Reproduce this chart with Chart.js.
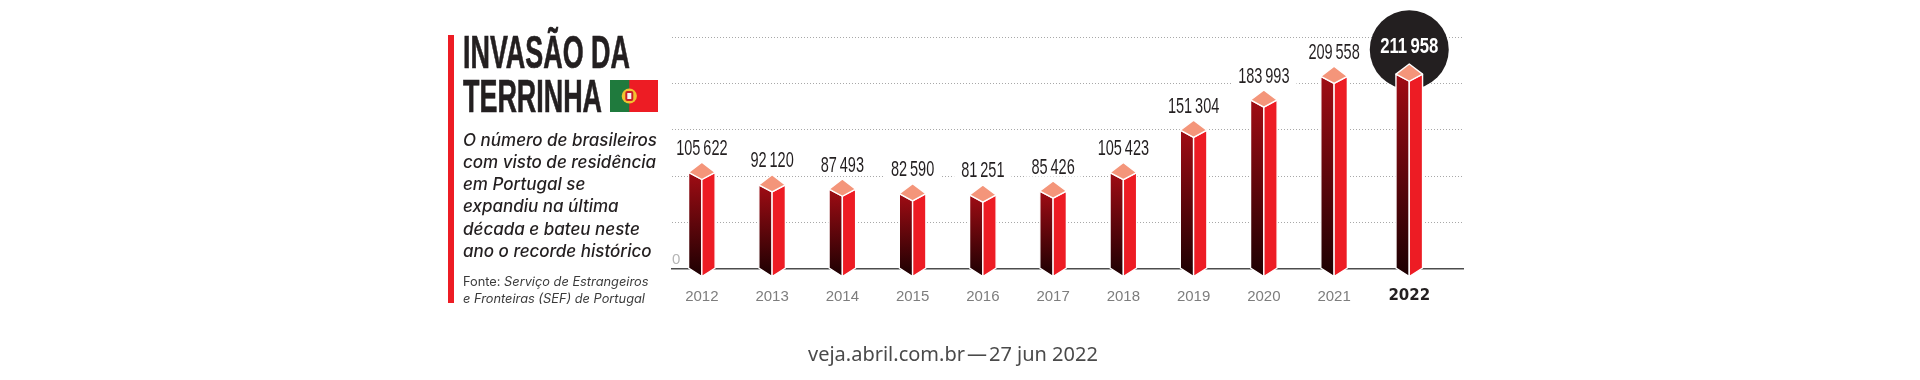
<!DOCTYPE html>
<html lang="pt-BR">
<head>
<meta charset="utf-8">
<title>Invasão da terrinha</title>
<script src="https://cdn.jsdelivr.net/npm/chart.js@4/dist/chart.umd.js"></script>
<style>
  html, body { margin: 0; background: #fff; }
  #stage { position: relative; width: 1920px; height: 380px; overflow: hidden; }
  #stage canvas { position: absolute; left: 0; top: 0; }
  .txt { position: absolute; white-space: nowrap; transform-origin: left top; }
  #rule { position: absolute; left: 448px; top: 35px; width: 6px; height: 268px; background: #ed1c24; }
  .title { left: 463px; font: bold 46px/46px "Liberation Sans", sans-serif; color: #231f20; transform: scaleX(0.585); -webkit-text-stroke: 0.7px #231f20; }
  .desc { left: 463px; font: italic 500 17px/22px Inter, sans-serif; color: #231f20; }
  .src { left: 463px; font: 12.8px/17px Inter, sans-serif; color: #3a3a3a; }
  #flag { position: absolute; left: 610px; top: 80px; }
  #credit { left: 808px; top: 340px; font: 20px/28px "Noto Sans", sans-serif; color: #4a4a4a; }
</style>
</head>
<body>
<div id="stage">
  <canvas id="chart" width="1920" height="380"></canvas>
  <div id="rule"></div>
  <div class="txt title" style="top:29px">INVASÃO DA</div>
  <div class="txt title" style="top:73px">TERRINHA</div>
  <svg id="flag" width="48" height="32" viewBox="0 0 48 32">
    <rect width="48" height="32" fill="#ed1c24"/>
    <rect width="19.3" height="32" fill="#1f7a3d"/>
    <circle cx="19.3" cy="16" r="7.6" fill="#f2c230"/>
    <rect x="15.3" y="11" width="8" height="10" rx="2" fill="#c8202a"/>
    <rect x="17.3" y="13" width="4" height="6" fill="#f5f5f5"/>
  </svg>
  <div class="txt desc" style="top:129px">O número de brasileiros</div>
  <div class="txt desc" style="top:151px">com visto de residência</div>
  <div class="txt desc" style="top:173px">em Portugal se</div>
  <div class="txt desc" style="top:195px">expandiu na última</div>
  <div class="txt desc" style="top:218px">década e bateu neste</div>
  <div class="txt desc" style="top:240px">ano o recorde histórico</div>
  <div class="txt src" style="top:273px">Fonte: <i>Serviço de Estrangeiros</i></div>
  <div class="txt src" style="top:290px"><i>e Fronteiras (SEF) de Portugal</i></div>
  <div class="txt" id="credit">veja.abril.com.br&#8202;—&#8202;27 jun 2022</div>
</div>
<script>
const years = ['2012', '2013', '2014', '2015', '2016', '2017', '2018', '2019', '2020', '2021', '2022'];
const residents = [105622, 92120, 87493, 82590, 81251, 85426, 105423, 151304, 183993, 209558, 211958];
const highlightYear = '2022';
const valueTicks = [0, 50000, 100000, 150000, 200000, 250000];

const labelFont = '"Liberation Sans", sans-serif';

// category axis with room on both sides and the record year set a little apart
class BreakoutCategoryScale extends Chart.CategoryScale {
  getPixelForValue(value) {
    const index = typeof value === 'number' ? value : this.parse(value);
    if (index === null) return NaN;
    const gap = this.getLabels()[index] === highlightYear ? 0.07 : 0;
    return this.getPixelForDecimal((index + 0.425 + gap) / 11.26);
  }
}
BreakoutCategoryScale.id = 'breakoutCategory';
BreakoutCategoryScale.defaults = Chart.CategoryScale.defaults;

function formatValue(value) {
  return String(value).replace(/\B(?=(\d{3})+$)/g, '\u2009');
}

// bars drawn as small boxes seen from a corner, value sits at the centre of the lid
class CuboidController extends Chart.BarController {
  draw() {
    const ctx = this.chart.ctx;
    const bars = this.getMeta().data;
    bars.forEach((bar, i) => {
      const hw = bar.width / 2;
      const left = bar.x - hw;
      const right = bar.x + hw;
      const top = bar.y;
      const base = bar.base;
      const edge = top + 1.5;
      const drop = 8.6;
      const hot = years[i] === highlightYear;

      if (hot) {
        ctx.beginPath();
        ctx.arc(bar.x, top - 23, 39.5, 0, Math.PI * 2);
        ctx.fillStyle = '#231f20';
        ctx.fill();
      }

      const shade = ctx.createLinearGradient(0, edge, 0, base + drop);
      shade.addColorStop(0, '#a00c14');
      shade.addColorStop(1, '#1c0002');

      ctx.lineJoin = 'round';
      ctx.lineWidth = 1.4;
      ctx.strokeStyle = '#fff';

      ctx.beginPath();
      ctx.moveTo(left, edge);
      ctx.lineTo(bar.x, top + drop);
      ctx.lineTo(bar.x, base + drop);
      ctx.lineTo(left, base);
      ctx.closePath();
      ctx.fillStyle = shade;
      ctx.fill();
      ctx.stroke();

      ctx.beginPath();
      ctx.moveTo(right, edge);
      ctx.lineTo(bar.x, top + drop);
      ctx.lineTo(bar.x, base + drop);
      ctx.lineTo(right, base);
      ctx.closePath();
      ctx.fillStyle = '#ed1c24';
      ctx.fill();
      ctx.stroke();

      ctx.beginPath();
      ctx.moveTo(left, edge);
      ctx.lineTo(bar.x, top - drop);
      ctx.lineTo(right, edge);
      ctx.lineTo(bar.x, top + drop);
      ctx.closePath();
      ctx.fillStyle = '#f4957a';
      ctx.fill();
      ctx.stroke();

      // value label squeezed to a condensed width, with a white patch that breaks the grid line
      const text = formatValue(residents[i]);
      const textY = top - (hot ? 25.5 : 22);
      const squeeze = hot ? 0.76 : 0.66;
      ctx.font = (hot ? 'bold 22px ' : '22px ') + labelFont;
      ctx.textAlign = 'center';
      ctx.textBaseline = 'middle';
      if (!hot) {
        const w = ctx.measureText(text).width * squeeze + 14;
        ctx.fillStyle = '#fff';
        ctx.fillRect(bar.x - w / 2, textY - 9, w, 18);
      }
      ctx.save();
      ctx.translate(bar.x, textY);
      ctx.scale(squeeze, 1);
      ctx.fillStyle = hot ? '#fff' : '#231f20';
      ctx.fillText(text, 0, 0);
      ctx.restore();
    });
  }
}
CuboidController.id = 'cuboid';
CuboidController.defaults = Chart.BarController.defaults;
CuboidController.overrides = Chart.BarController.overrides;

Chart.register(BreakoutCategoryScale, CuboidController);

new Chart(document.getElementById('chart'), {
  type: 'cuboid',
  data: {
    labels: years,
    datasets: [{
      data: residents,
      backgroundColor: '#ed1c24',
      barThickness: 26.6,
      clip: false
    }]
  },
  options: {
    responsive: false,
    animation: false,
    layout: { padding: { left: 672, right: 457, top: 37.5, bottom: 0 } },
    plugins: { legend: { display: false }, tooltip: { enabled: false } },
    scales: {
      x: {
        type: 'breakoutCategory',
        afterFit: (scale) => { scale.height = 111.5; },
        grid: { display: false },
        border: { display: true, color: '#4d4d4d', width: 1.6 },
        ticks: {
          padding: 11,
          maxRotation: 0,
          autoSkip: false,
          color: (c) => (years[c.index] === highlightYear ? '#231f20' : '#7d7d7d'),
          font: (c) => (years[c.index] === highlightYear
            ? { family: '"DejaVu Sans", sans-serif', size: 15, weight: 'bold' }
            : { family: labelFont, size: 15 })
        }
      },
      y: {
        min: 0,
        max: 250000,
        afterBuildTicks: (scale) => { scale.ticks = valueTicks.map((value) => ({ value })); },
        afterFit: (scale) => { scale.width = 0; },
        grid: { color: '#a8a8a8', lineWidth: 1, drawTicks: false },
        border: { display: false, dash: [1, 2] },
        ticks: {
          mirror: true,
          padding: 0,
          labelOffset: -9,
          color: '#b5b5b5',
          font: { family: labelFont, size: 15 },
          callback: (value) => (value === 0 ? '0' : '')
        }
      }
    }
  }
});
</script>
</body>
</html>
